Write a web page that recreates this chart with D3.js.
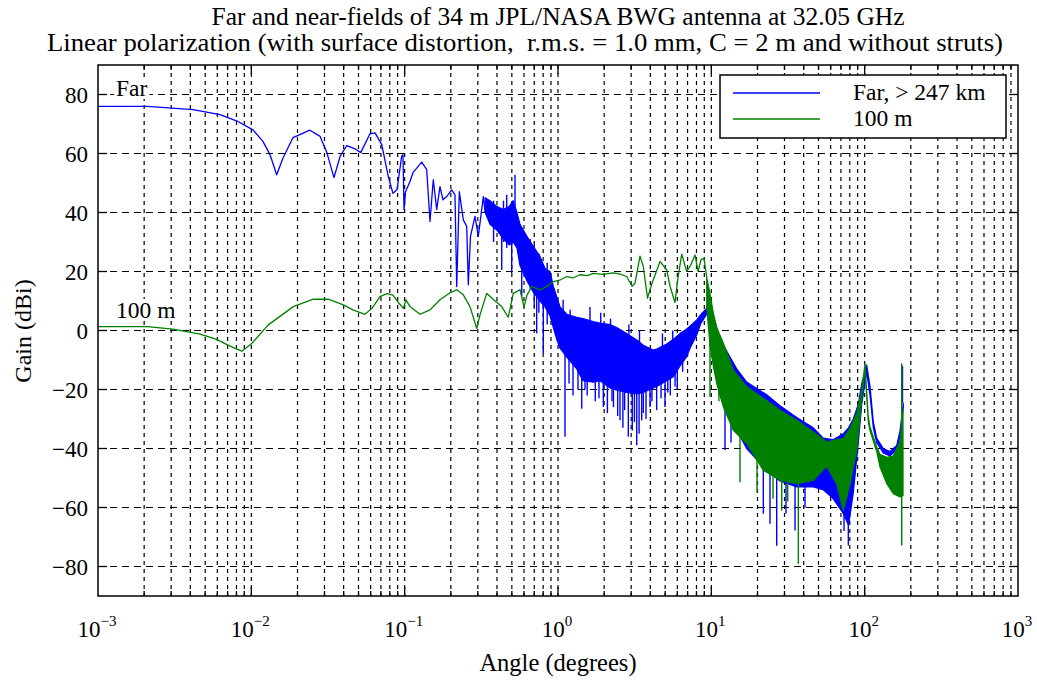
<!DOCTYPE html>
<html>
<head>
<meta charset="utf-8">
<script src="https://cdn.jsdelivr.net/npm/d3@7"></script>
<style>
  body { margin: 0; background: #fff; }
  text { font-family: "Liberation Serif", "Times New Roman", serif; fill: #000; }
</style>
</head>
<body>
<div id="chart"></div>
<script>
// tick values
const xDecades = [1e-3, 1e-2, 1e-1, 1, 10, 100, 1000]
const xExponents = ["\u22123", "\u22122", "\u22121", "0", "1", "2", "3"]
const yTicks = [-80, -60, -40, -20, 0, 20, 40, 60, 80]

// Far field (blue): traced line, dense band [angle, lo, hi], spikes [angle, top, bottom]
const farLine = [
  [0.001, 76], [0.0021, 76], [0.00417, 74.9], [0.00625, 73.2], [0.00807, 71], [0.01025, 68],
  [0.0119, 64.1], [0.01324, 59.6], [0.01464, 52.8], [0.01609, 58.5], [0.0187, 65.4], [0.0241, 67.9],
  [0.0281, 65.8], [0.0311, 60.3], [0.0346, 51.8], [0.0379, 59], [0.0419, 62.7], [0.0474, 61.6],
  [0.0517, 60.3], [0.0594, 66.7], [0.0641, 67], [0.0709, 63], [0.0782, 52.2], [0.0839, 46.5],
  [0.0891, 47.7], [0.0956, 59], [0.0975, 59.6], [0.099, 40.9], [0.1013, 47], [0.1083, 50.5],
  [0.1133, 53.5], [0.1292, 57.1], [0.1392, 54.5], [0.1463, 37], [0.1537, 51.1], [0.1618, 41],
  [0.170, 48.8], [0.1778, 44.3], [0.188, 45.4], [0.2026, 47.7], [0.2129, 46], [0.2185, 14.9],
  [0.2272, 47.1], [0.2413, 37.5], [0.2539, 35.3], [0.260, 15.5], [0.2688, 32], [0.2876, 38.7],
  [0.3021, 31.9], [0.3258, 45.4], [0.335, 40]
]
const farBand = [
  [0.335, 40, 45], [0.36, 36, 44], [0.40, 34, 42], [0.44, 31, 41], [0.48, 29, 42], [0.51, 30, 44],
  [0.54, 28, 40], [0.565, 22, 36], [0.625, 17, 32], [0.69, 13, 28.5], [0.763, 10, 25.1],
  [0.823, 8, 21], [0.887, 5, 20], [0.932, 1, 15], [0.981, -3, 11.5], [1.031, -6, 8],
  [1.14, -9, 5.5], [1.324, -13, 4.5], [1.456, -17, 4], [1.699, -17.5, 3], [1.879, -17, 2.5],
  [2.184, -19.5, 2], [2.415, -20.2, 1], [2.806, -21, -1], [3.262, -21.5, -3.2], [3.601, -21, -5],
  [4.183, -19.5, -6.6], [4.403, -19, -6.3], [5.117, -17, -4.6], [5.651, -15.7, -3], [6.248, -12, -1],
  [6.909, -8.9, 0.5], [7.26, -6, 1.5], [8.029, -1.5, 3.6], [8.565, 2.5, 5.5], [9.331, 5.5, 7.5],
  [9.66, 6.5, 8], [10.0, -2, 8], [10.3, -10, 5], [11.39, -22, -3], [14.64, -33.8, -13],
  [17.01, -40, -17.5], [22.97, -47.4, -21.8], [28.05, -51, -25.5], [36.06, -53, -29.5], [46.24, -53, -33],
  [53.75, -54, -36.5], [62.18, -57, -37], [72.59, -62, -35], [78.5, -66, -33], [84.33, -55, -30],
  [90.9, -38, -25], [95.7, -25, -18], [103.1, -14, -11.7], [108.4, -22, -19], [113.9, -33, -31],
  [119.8, -38, -36.5], [132.3, -41.5, -40], [146.3, -42.5, -41], [161.8, -40.5, -39], [170.1, -36, -34],
  [178.7, -26, -24.7]
]
const farSpikes = [
  [0.38, 44, 30], [0.4295, 40, 20.5], [0.4412, 44, 30], [0.4628, 46, 28], [0.4989, 40, 19.5],
  [0.5243, 52.8, 32], [0.58, 30, 11.5], [0.6, 33, 20], [0.66, 31, 14], [0.7, 29, 8],
  [0.726, 20, -1], [0.75, 26, 6], [0.802, 15, -7.7], [0.85, 23, 2], [1.08, 10.4, 0],
  [1.111, 5, -36], [1.18, 2, -18], [1.2, -5, 7], [1.253, 3, -22], [1.35, 0, -20],
  [1.428, 0, -26.5], [1.5, 3, -20], [1.55, 2, -22], [1.617, 8, -10], [1.75, 0, -24],
  [1.85, 1, -23], [1.9, -10, 6], [1.975, 0, -25.9], [2.1, -2, -28], [2.2, -10, 4],
  [2.25, 0, -24], [2.3, -2, -26], [2.45, -1, -29], [2.538, -2, -30.4], [2.65, -3, -33],
  [2.72, -2, -27], [2.875, -2, -36], [2.9, -10, 2], [3.05, -4, -34], [3.15, -3, -31],
  [3.262, -5, -38.9], [3.38, -4, -35], [3.4, -12, 0], [3.515, -5, -30.4], [3.6, -5, -28],
  [3.75, -6, -30], [3.982, -7, -25.9], [4.1, -7, -24], [4.4, -8, -27], [4.7, -6, -23],
  [4.8, -12, -1], [4.988, -6, -25.9], [5.2, -5, -21], [5.4, -5, -22], [5.6, -10, 0],
  [5.8, -3, -19], [6.0, -3, -20], [6.5, -1, -14], [12.28, -25, -40.6], [13.44, -30, -38],
  [21.83, -45, -62.1], [24.13, -48, -65.5], [26.69, -48, -73], [30.69, -50, -62], [35.14, -52, -67.8],
  [40.83, -52, -60], [73.34, -55, -68], [78.24, -55, -72.9], [176.5, -24.7, -12]
]

// 100 m field (green)
const nearLine = [
  [0.001, 1.3], [0.0021, 1.3], [0.00308, 0.5], [0.00463, -1.2], [0.00594, -3], [0.00726, -5.3],
  [0.00866, -7], [0.01006, -4.4], [0.0129, 1.9], [0.01878, 8.1], [0.02536, 10.6], [0.03177, 10.6],
  [0.03979, 8.7], [0.04603, 7], [0.0551, 5.5], [0.0612, 7.5], [0.069, 11.5], [0.0767, 12.5],
  [0.0839, 12], [0.0909, 9.5], [0.098, 7.5], [0.102, 10.4], [0.1083, 8.1], [0.1259, 5.5],
  [0.1463, 7], [0.170, 10.4], [0.1976, 12.8], [0.2185, 13.8], [0.2413, 12.1], [0.2668, 8.1],
  [0.2950, 0.7], [0.310, 5.3], [0.3427, 12.6], [0.3786, 10.5], [0.4295, 8.1], [0.474, 4.5],
  [0.511, 12.6], [0.5652, 13.8], [0.6003, 8], [0.628, 12], [0.674, 14.9], [0.763, 13.8],
  [0.844, 14.9], [0.932, 16.6], [1.04, 17.2], [1.14, 18.3], [1.25, 17.8], [1.392, 18.9],
  [1.55, 18.6], [1.699, 19.4], [1.95, 19], [2.295, 19.5], [2.55, 19.1], [2.806, 18.3],
  [3.039, 15], [3.178, 16], [3.426, 25.2], [3.601, 21.7], [3.836, 11], [4.103, 16],
  [4.627, 23.4], [5.117, 20.5], [5.377, 15], [5.797, 9.5], [6.063, 18], [6.411, 25.9],
  [6.909, 20], [7.315, 22], [7.83, 25.6], [8.187, 20], [8.565, 24], [8.961, 24.5], [9.331, 18]
]
const nearBand = [
  [9.331, 8, 18], [9.80, -5, 12.6], [10.3, -12, 6], [10.84, -18, 1], [11.98, -25.9, -4.3],
  [13.91, -33.8, -13.4], [17.01, -38.3, -19.1], [21.83, -47.4, -23], [28.05, -50.8, -27],
  [36.06, -51.9, -30.4], [46.24, -50.8, -34.4], [56.56, -46, -37.8], [65.73, -52, -37],
  [72.59, -61, -36.6], [80.27, -52, -33.2], [88.76, -40.6, -28.1], [95.7, -23.6, -20.2],
  [100.5, -13, -11.2], [105.6, -31, -29.3], [108.4, -34, -32.7], [119.8, -41, -39.5],
  [125.9, -46.3, -42], [139.2, -51.9, -43], [153.8, -55.3, -42.5], [170.1, -56.4, -37.5],
  [177.9, -56, -27]
]
const nearSpikes = [
  [9.80, 5, -22.5], [11.2, -10, -24], [15.38, -35, -51.4], [19.86, -42, -55], [25.25, -45, -57],
  [28.77, -48, -61], [31.5, -50, -58], [36.93, -50, -79.1], [174.4, -11.2, -72.9]
]

const width = 1037, height = 684
const marginLeft = 98, marginRight = 19, marginTop = 65, marginBottom = 88

const x = d3.scaleLog().domain([1e-3, 1e3]).range([marginLeft, width - marginRight])
const y = d3.scaleLinear().domain([-90, 90]).range([height - marginBottom, marginTop])

const svg = d3.select("#chart").append("svg")
    .attr("width", width)
    .attr("height", height)
    .attr("viewBox", [0, 0, width, height])

// all log ticks (1..9 per decade)
const xAll = []
xDecades.slice(0, -1).forEach(d => { for (let k = 1; k < 10; k++) xAll.push(d * k) })
xAll.push(1e3)
const xInner = xAll.filter(v => v > 1e-3 && v < 1e3)

// grid
svg.append("g")
    .selectAll("line")
    .data(xInner)
    .join("line")
      .attr("x1", d => x(d)).attr("x2", d => x(d))
      .attr("y1", y(90)).attr("y2", y(-90))
      .attr("stroke", "#000")
      .attr("stroke-width", 1.2)
      .attr("stroke-dasharray", "4,4")

svg.append("g")
    .selectAll("line")
    .data(yTicks)
    .join("line")
      .attr("x1", x(1e-3)).attr("x2", x(1e3))
      .attr("y1", d => y(d)).attr("y2", d => y(d))
      .attr("stroke", "#000")
      .attr("stroke-width", 1.2)
      .attr("stroke-dasharray", "7,5")

// tick marks, inward on all four sides
const tickG = svg.append("g").attr("stroke", "#000").attr("stroke-width", 1.3)
xInner.forEach(v => {
  const major = xDecades.includes(v)
  const len = major ? 9 : 5
  tickG.append("line").attr("x1", x(v)).attr("x2", x(v)).attr("y1", y(-90)).attr("y2", y(-90) - len)
  tickG.append("line").attr("x1", x(v)).attr("x2", x(v)).attr("y1", y(90)).attr("y2", y(90) + len)
})
yTicks.forEach(v => {
  tickG.append("line").attr("x1", x(1e-3)).attr("x2", x(1e-3) + 9).attr("y1", y(v)).attr("y2", y(v))
  tickG.append("line").attr("x1", x(1e3)).attr("x2", x(1e3) - 9).attr("y1", y(v)).attr("y2", y(v))
})

const line = d3.line().x(d => x(d[0])).y(d => y(d[1]))
const area = d3.area().x(d => x(d[0])).y0(d => y(d[1])).y1(d => y(d[2]))

function drawSeries(lineData, bandData, spikeData, color) {
  const g = svg.append("g")
  g.append("path")
      .attr("fill", "none")
      .attr("stroke", color)
      .attr("stroke-width", 1.3)
      .attr("stroke-linejoin", "round")
      .attr("d", line(lineData))
  g.append("path")
      .attr("fill", color)
      .attr("stroke", color)
      .attr("stroke-width", 1.2)
      .attr("stroke-linejoin", "round")
      .attr("d", area(bandData))
  g.selectAll("line.spike")
    .data(spikeData)
    .join("line")
      .attr("class", "spike")
      .attr("x1", d => x(d[0])).attr("x2", d => x(d[0]))
      .attr("y1", d => y(d[1])).attr("y2", d => y(d[2]))
      .attr("stroke", color)
      .attr("stroke-width", 1.4)
}

drawSeries(farLine, farBand, farSpikes, "#0000ff")
drawSeries(nearLine, nearBand, nearSpikes, "#008000")

// frame
svg.append("rect")
    .attr("x", x(1e-3)).attr("y", y(90))
    .attr("width", x(1e3) - x(1e-3)).attr("height", y(-90) - y(90))
    .attr("fill", "none")
    .attr("stroke", "#000")
    .attr("stroke-width", 1.5)

// y tick labels
svg.append("g")
    .selectAll("text")
    .data(yTicks)
    .join("text")
      .attr("x", x(1e-3) - 10)
      .attr("y", d => y(d))
      .attr("dy", "0.35em")
      .attr("text-anchor", "end")
      .style("font-size", "23px")
      .text(d => d < 0 ? "\u2212" + Math.abs(d) : d)

// x tick labels 10^n
const xl = svg.append("g")
xDecades.forEach((v, i) => {
  const t = xl.append("text")
      .attr("x", x(v) - 1)
      .attr("y", 637)
      .attr("text-anchor", "middle")
      .style("font-size", "23px")
  t.append("tspan").text("10")
  t.append("tspan").attr("dy", -11).style("font-size", "15px").text(xExponents[i])
})

// axis labels
svg.append("text")
    .attr("x", 558).attr("y", 671)
    .attr("text-anchor", "middle")
    .style("font-size", "24.5px")
    .text("Angle (degrees)")

svg.append("text")
    .attr("transform", "translate(31,331) rotate(-90)")
    .attr("text-anchor", "middle")
    .style("font-size", "24px")
    .text("Gain (dBi)")

// title
svg.append("text")
    .attr("x", 558).attr("y", 25)
    .attr("text-anchor", "middle")
    .attr("textLength", 693)
    .attr("lengthAdjust", "spacingAndGlyphs")
    .style("font-size", "25px")
    .text("Far and near-fields of 34 m JPL/NASA BWG antenna at 32.05 GHz")
svg.append("text")
    .attr("x", 525).attr("y", 51)
    .attr("text-anchor", "middle")
    .attr("textLength", 956)
    .attr("lengthAdjust", "spacingAndGlyphs")
    .style("font-size", "25px")
    .style("white-space", "pre")
    .text("Linear polarization (with surface distortion,  r.m.s. = 1.0 mm, C = 2 m and without struts)")

// in-plot labels with white backing
function label(txt, px, py) {
  const t = svg.append("text")
      .attr("x", px).attr("y", py)
      .style("font-size", "23.5px")
      .text(txt)
  const b = t.node().getBBox()
  svg.insert("rect", () => t.node())
      .attr("x", b.x - 2).attr("y", b.y + 2)
      .attr("width", b.width + 4).attr("height", b.height - 4)
      .attr("fill", "#fff")
}
label("Far", 116, 96)
label("100 m", 116, 318)

// legend
const lg = svg.append("g")
lg.append("rect")
    .attr("x", 720).attr("y", 75).attr("width", 286).attr("height", 63)
    .attr("fill", "#fff").attr("stroke", "#000").attr("stroke-width", 1.5)
const legendItems = [["Far, > 247 km", "#0000ff"], ["100 m", "#008000"]]
legendItems.forEach(([name, c], i) => {
  lg.append("line")
      .attr("x1", 733).attr("x2", 820)
      .attr("y1", 93 + i * 26).attr("y2", 93 + i * 26)
      .attr("stroke", c).attr("stroke-width", 1.3)
  lg.append("text")
      .attr("x", 853).attr("y", 100 + i * 26)
      .style("font-size", "23.5px")
      .text(name)
})
</script>
</body>
</html>
